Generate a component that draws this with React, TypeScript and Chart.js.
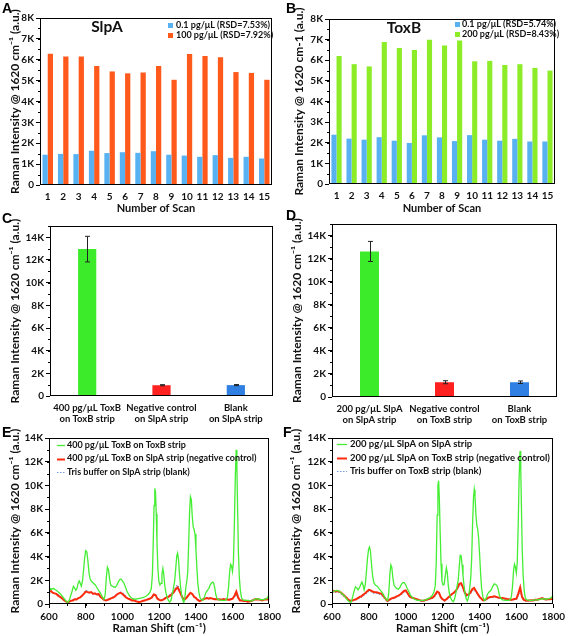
import React, { useEffect, useRef } from "react";
import { Chart, registerables } from "chart.js";

Chart.register(...registerables);

// ---------------- DATA ----------------
const SCANS = ["1", "2", "3", "4", "5", "6", "7", "8", "9", "10", "11", "12", "13", "14", "15"];

const SLPA_LOW = [1450, 1490, 1480, 1640, 1530, 1570, 1540, 1620, 1450, 1410, 1350, 1430, 1300, 1350, 1270];
const SLPA_HIGH = [6290, 6160, 6150, 5700, 5440, 5350, 5390, 5700, 5040, 6270, 6180, 6120, 5410, 5370, 5040];
const TOXB_LOW = [2390, 2200, 2150, 2270, 2100, 1990, 2360, 2260, 2080, 2370, 2150, 2100, 2190, 2060, 2060];
const TOXB_HIGH = [6210, 5810, 5700, 6880, 6600, 6500, 6990, 6710, 6960, 5950, 5970, 5770, 5810, 5630, 5500];

const C_LABELS = [["400 pg/μL ToxB", "on ToxB strip"], ["Negative control", "on SlpA strip"], ["Blank", "on SlpA strip"]];
const C_MEANS = [12960, 950, 960];
const C_ERRORS = [1130, 50, 50];

const D_LABELS = [["200 pg/μL SlpA", "on SlpA strip"], ["Negative control", "on ToxB strip"], ["Blank", "on ToxB strip"]];
const D_MEANS = [12620, 1280, 1280];
const D_ERRORS = [870, 130, 110];

// Raman shift grid (cm-1) for the control spectra, 10 cm-1 sampling
const SHIFT_GRID = Array.from({ length: 121 }, (_, i) => 600 + i * 10);

// intensities in thousands (K) of a.u.
const E_TOXB_ON_TOXB: [number, number][] = [
  [600, 1.0], [608, 1.3], [615, 1.25], [625, 1.3], [635, 1.2], [645, 1.1], [655, 0.95], [665, 0.8], [675, 0.6], [685, 0.4],
  [695, 0.2], [702, 0.1], [710, 0.3], [718, 0.7], [726, 1.1], [733, 1.5], [740, 1.35], [746, 1.15], [752, 1.3], [758, 1.7],
  [764, 1.95], [770, 1.75], [776, 1.5], [782, 1.9], [788, 2.8], [794, 3.9], [800, 4.5], [806, 4.4], [812, 3.6], [818, 2.6],
  [824, 2.1], [832, 1.9], [842, 1.75], [852, 1.6], [862, 1.35], [872, 1.1], [882, 0.85], [892, 0.55], [900, 0.4], [906, 0.8],
  [912, 2.2], [918, 3.1], [924, 2.9], [930, 2.1], [936, 1.6], [944, 1.5], [952, 1.45], [960, 1.4], [968, 1.55], [976, 1.8],
  [984, 2.05], [992, 2.1], [1000, 1.95], [1008, 1.75], [1016, 1.45], [1024, 1.1], [1032, 0.85], [1042, 0.6], [1055, 0.45], [1070, 0.4],
  [1085, 0.45], [1100, 0.5], [1115, 0.55], [1128, 0.65], [1140, 0.8], [1150, 1.0], [1157, 1.3], [1163, 2.5], [1168, 5.5], [1172, 8.3],
  [1176, 9.75], [1180, 9.4], [1184, 7.6], [1188, 5.2], [1193, 3.0], [1198, 1.9], [1204, 1.6], [1210, 1.75], [1215, 2.5], [1220, 3.0],
  [1225, 2.5], [1230, 1.6], [1236, 1.0], [1243, 0.6], [1250, 0.3], [1257, 0.15], [1264, 0.3], [1271, 0.8], [1278, 1.4], [1284, 1.9],
  [1290, 3.0], [1296, 4.1], [1300, 4.3], [1305, 3.8], [1310, 2.6], [1316, 1.5], [1322, 0.8], [1328, 0.35], [1334, 0.1], [1340, 0.6],
  [1345, 1.4], [1350, 1.9], [1355, 2.6], [1360, 4.8], [1365, 7.6], [1370, 9.05], [1375, 8.8], [1380, 7.4], [1385, 6.5], [1390, 6.3],
  [1395, 5.9], [1400, 4.6], [1405, 3.1], [1410, 1.8], [1416, 1.0], [1422, 0.55], [1430, 0.35], [1438, 0.3], [1446, 0.6], [1454, 0.95],
  [1462, 1.15], [1470, 1.3], [1477, 1.6], [1484, 1.75], [1490, 1.85], [1496, 1.8], [1502, 1.4], [1508, 0.8], [1515, 0.45], [1525, 0.35],
  [1540, 0.3], [1555, 0.3], [1565, 0.35], [1572, 0.6], [1578, 1.5], [1584, 2.8], [1589, 3.35], [1594, 3.2], [1599, 2.75], [1604, 3.5],
  [1609, 6.5], [1614, 10.5], [1619, 13.0], [1623, 11.5], [1627, 8.0], [1631, 4.5], [1636, 2.3], [1642, 1.1], [1648, 0.55], [1656, 0.35],
  [1670, 0.3], [1685, 0.3], [1700, 0.25], [1715, 0.35], [1730, 0.45], [1745, 0.4], [1760, 0.35], [1775, 0.4], [1785, 0.45], [1792, 0.6],
  [1796, 0.75], [1800, 0.65],
];

const E_TOXB_ON_SLPA = [
  1.05, 1.1, 0.95, 0.9, 0.85, 0.7, 0.6, 0.5, 0.35, 0.25,
  0.12, 0.2, 0.28, 0.3, 0.4, 0.38, 0.5, 0.55, 0.7, 0.85,
  1.05, 1.0, 0.95, 1.0, 0.85, 0.9, 0.8, 0.85, 0.6, 0.5,
  0.35, 0.3, 0.35, 0.42, 0.5, 0.55, 0.65, 0.8, 0.9, 0.95,
  0.85, 0.7, 0.55, 0.45, 0.4, 0.3, 0.32, 0.25, 0.2, 0.15,
  0.2, 0.25, 0.3, 0.35, 0.4, 0.45, 0.55, 0.8, 0.75, 0.45,
  0.35, 0.3, 0.35, 0.45, 0.55, 0.6, 0.7, 0.85, 1.0, 1.25,
  1.4, 1.1, 0.75, 0.45, 0.4, 0.55, 0.75, 0.95, 0.85, 0.6,
  0.5, 0.35, 0.25, 0.3, 0.4, 0.45, 0.5, 0.45, 0.5, 0.45,
  0.4, 0.42, 0.38, 0.4, 0.35, 0.42, 0.38, 0.4, 0.35, 0.4,
  0.45, 0.7, 1.05, 0.55, 0.3, 0.3, 0.25, 0.28, 0.2, 0.22,
  0.25, 0.3, 0.4, 0.38, 0.4, 0.35, 0.3, 0.35, 0.4, 0.38,
  0.45,
];

const E_BLANK_SLPA = [
  0.9, 0.95, 0.95, 0.9, 0.85, 0.8, 0.65, 0.55, 0.4, 0.25,
  0.1, 0.15, 0.25, 0.35, 0.4, 0.45, 0.5, 0.6, 0.75, 0.95,
  1.15, 1.1, 1.0, 0.95, 0.9, 0.85, 0.8, 0.75, 0.6, 0.45,
  0.3, 0.35, 0.4, 0.45, 0.5, 0.6, 0.7, 0.8, 0.95, 1.0,
  0.95, 0.8, 0.6, 0.5, 0.4, 0.35, 0.3, 0.25, 0.25, 0.2,
  0.2, 0.25, 0.3, 0.35, 0.45, 0.5, 0.6, 0.75, 0.7, 0.5,
  0.4, 0.35, 0.4, 0.5, 0.6, 0.7, 0.8, 0.95, 1.1, 1.45,
  1.6, 1.3, 0.85, 0.5, 0.45, 0.6, 0.8, 0.95, 0.8, 0.6,
  0.5, 0.4, 0.3, 0.35, 0.45, 0.5, 0.55, 0.5, 0.5, 0.45,
  0.45, 0.4, 0.4, 0.42, 0.4, 0.38, 0.4, 0.42, 0.4, 0.45,
  0.5, 0.6, 0.8, 0.5, 0.35, 0.3, 0.28, 0.25, 0.25, 0.28,
  0.3, 0.35, 0.42, 0.4, 0.42, 0.4, 0.35, 0.38, 0.4, 0.42,
  0.45,
];

const F_SLPA_ON_SLPA: [number, number][] = [
  [600, 1.0], [608, 1.05], [616, 1.1], [626, 1.15], [636, 1.1], [646, 1.0], [656, 0.85], [666, 0.7], [676, 0.5], [686, 0.3],
  [696, 0.15], [704, 0.15], [712, 0.6], [720, 1.1], [727, 1.45], [734, 1.35], [741, 1.2], [748, 1.35], [755, 1.6], [762, 1.85],
  [768, 1.6], [774, 1.2], [780, 1.6], [786, 2.6], [792, 3.8], [798, 4.6], [803, 4.8], [808, 4.5], [814, 3.4], [820, 2.4],
  [827, 1.8], [835, 1.6], [845, 1.5], [855, 1.3], [865, 1.1], [875, 0.9], [885, 0.6], [895, 0.35], [902, 0.3], [908, 1.0],
  [914, 2.6], [919, 3.3], [924, 3.1], [930, 2.2], [936, 1.6], [944, 1.4], [952, 1.3], [960, 1.25], [968, 1.4], [976, 1.65],
  [984, 1.8], [992, 1.8], [1000, 1.6], [1008, 1.3], [1016, 1.05], [1025, 0.75], [1035, 0.55], [1048, 0.4], [1062, 0.3], [1078, 0.3],
  [1094, 0.3], [1108, 0.35], [1120, 0.45], [1132, 0.55], [1144, 0.75], [1153, 1.0], [1160, 1.6], [1165, 3.5], [1170, 7.5], [1174, 10.0],
  [1178, 10.4], [1182, 8.8], [1186, 6.2], [1191, 3.4], [1196, 1.9], [1202, 1.6], [1208, 1.65], [1214, 2.4], [1220, 3.05], [1225, 2.6],
  [1230, 1.6], [1236, 0.9], [1243, 0.5], [1250, 0.3], [1257, 0.2], [1264, 0.4], [1271, 0.9], [1278, 1.5], [1284, 2.0], [1290, 3.2],
  [1295, 4.1], [1300, 4.05], [1305, 3.3], [1310, 2.4], [1316, 1.5], [1322, 0.8], [1328, 0.4], [1334, 0.25], [1340, 0.55], [1346, 1.3],
  [1352, 2.2], [1357, 3.8], [1362, 6.8], [1367, 9.0], [1371, 9.65], [1375, 9.1], [1380, 7.6], [1385, 6.6], [1390, 6.3], [1395, 5.5],
  [1400, 4.2], [1405, 2.7], [1411, 1.3], [1418, 0.6], [1426, 0.3], [1434, 0.4], [1442, 0.8], [1450, 1.0], [1458, 1.1], [1466, 1.3],
  [1473, 1.55], [1480, 1.7], [1487, 1.65], [1494, 1.55], [1500, 1.3], [1507, 0.75], [1515, 0.45], [1525, 0.35], [1540, 0.3], [1555, 0.3],
  [1565, 0.35], [1572, 0.6], [1578, 1.4], [1584, 2.8], [1589, 3.35], [1594, 3.1], [1599, 2.6], [1604, 3.5], [1609, 6.5], [1614, 10.5],
  [1619, 12.9], [1623, 11.4], [1627, 8.0], [1631, 4.6], [1636, 2.4], [1642, 1.1], [1648, 0.5], [1656, 0.35], [1670, 0.3], [1685, 0.3],
  [1700, 0.35], [1715, 0.35], [1730, 0.4], [1745, 0.45], [1760, 0.4], [1775, 0.45], [1785, 0.5], [1792, 0.6], [1796, 0.7], [1800, 0.6],
];

const F_SLPA_ON_TOXB = [
  1.0, 1.1, 1.05, 1.1, 1.05, 0.95, 0.8, 0.65, 0.5, 0.35,
  0.28, 0.3, 0.35, 0.4, 0.5, 0.6, 0.65, 0.8, 0.9, 1.05,
  1.2, 1.15, 1.05, 1.0, 1.0, 0.95, 0.9, 0.85, 0.65, 0.45,
  0.25, 0.35, 0.45, 0.5, 0.55, 0.65, 0.7, 0.8, 0.95, 1.1,
  1.15, 0.9, 0.65, 0.55, 0.5, 0.45, 0.4, 0.35, 0.3, 0.28,
  0.3, 0.35, 0.4, 0.45, 0.5, 0.6, 0.8, 1.05, 0.95, 0.55,
  0.4, 0.3, 0.4, 0.55, 0.7, 0.85, 0.95, 1.1, 1.35, 1.7,
  1.75, 1.4, 0.95, 0.75, 0.8, 0.95, 1.25, 1.35, 1.1, 0.85,
  0.6, 0.45, 0.3, 0.35, 0.45, 0.55, 0.6, 0.62, 0.65, 0.6,
  0.55, 0.52, 0.5, 0.48, 0.45, 0.42, 0.4, 0.35, 0.38, 0.42,
  0.45, 0.9, 1.4, 0.6, 0.35, 0.3, 0.28, 0.3, 0.32, 0.3,
  0.35, 0.35, 0.4, 0.45, 0.5, 0.42, 0.38, 0.4, 0.4, 0.42,
  0.45,
];

const F_BLANK_TOXB = [
  0.95, 1.0, 1.0, 1.0, 0.95, 0.85, 0.7, 0.6, 0.45, 0.3,
  0.2, 0.25, 0.3, 0.35, 0.45, 0.5, 0.6, 0.7, 0.8, 0.95,
  1.1, 1.05, 0.95, 0.9, 0.9, 0.85, 0.8, 0.7, 0.55, 0.4,
  0.2, 0.3, 0.4, 0.45, 0.5, 0.6, 0.65, 0.75, 0.85, 1.0,
  1.05, 0.85, 0.6, 0.5, 0.45, 0.4, 0.35, 0.3, 0.25, 0.22,
  0.25, 0.3, 0.35, 0.4, 0.45, 0.55, 0.7, 0.9, 0.85, 0.5,
  0.35, 0.25, 0.35, 0.5, 0.65, 0.8, 0.9, 1.0, 1.25, 1.55,
  1.6, 1.3, 0.85, 0.65, 0.7, 0.85, 1.1, 1.2, 1.0, 0.75,
  0.55, 0.4, 0.25, 0.3, 0.4, 0.5, 0.55, 0.55, 0.6, 0.55,
  0.5, 0.48, 0.45, 0.42, 0.4, 0.38, 0.35, 0.32, 0.35, 0.38,
  0.42, 0.7, 1.1, 0.5, 0.3, 0.25, 0.25, 0.28, 0.3, 0.28,
  0.3, 0.32, 0.35, 0.4, 0.45, 0.4, 0.35, 0.38, 0.38, 0.4,
  0.42,
];

// ---------------- STYLE ----------------
const FAMILY = "Lato, 'Open Sans', 'DejaVu Sans', sans-serif";
const TEXT = "#111";
const SKY = "#58b2f2";
const ORANGE = "#ff5a1c";
const LIME = "#8cec28";
const GREEN = "#3cec2a";
const RED = "#ff2020";
const BLUE = "#2f80e2";
const LINE_GREEN = "#44ee33";
const LINE_RED = "#ff2a0a";
const LINE_BLUE = "#6f9fd8";

const fnt = (size: number, weight: any = "bold") => ({ family: FAMILY, size, weight });

// ---------------- PLUGINS ----------------
const framePlugin = {
  id: "frame",
  afterDraw(chart: any) {
    const { ctx, chartArea: a } = chart;
    ctx.save();
    ctx.strokeStyle = "#000";
    ctx.lineWidth = 1;
    const l = Math.round(a.left) + 0.5;
    const t = Math.round(a.top) + 0.5;
    const r = Math.round(a.right) - 0.5;
    const b = Math.round(a.bottom) - 0.5;
    ctx.strokeRect(l, t, r - l, b - t);
    ctx.restore();
  },
};

const minorTicksPlugin = {
  id: "minorTicks",
  afterDraw(chart: any, _args: any, o: any) {
    const { ctx, chartArea: a } = chart;
    ctx.save();
    ctx.strokeStyle = "#000";
    ctx.lineWidth = 1;
    if (o && o.y) {
      const s = chart.scales.y;
      for (let v = s.min; v <= s.max + 1e-9; v += o.y) {
        const p = Math.round(s.getPixelForValue(v)) + 0.5;
        ctx.beginPath();
        ctx.moveTo(a.left - o.len, p);
        ctx.lineTo(a.left, p);
        ctx.stroke();
      }
    }
    if (o && o.x) {
      const s = chart.scales.x;
      for (let v = s.min; v <= s.max + 1e-9; v += o.x) {
        const p = Math.round(s.getPixelForValue(v)) + 0.5;
        ctx.beginPath();
        ctx.moveTo(p, a.bottom);
        ctx.lineTo(p, a.bottom + o.len);
        ctx.stroke();
      }
    }
    ctx.restore();
  },
};

const errorBarPlugin = {
  id: "errorBars",
  afterDatasetsDraw(chart: any, _args: any, o: any) {
    const { ctx } = chart;
    const ys = chart.scales.y;
    chart.data.datasets.forEach((ds: any, di: number) => {
      if (!ds.errors) return;
      const meta = chart.getDatasetMeta(di);
      meta.data.forEach((el: any, i: number) => {
        const v = ds.data[i];
        const e = ds.errors[i];
        const x = Math.round(el.x) + 0.5;
        const yt = ys.getPixelForValue(v + e);
        const yb = ys.getPixelForValue(v - e);
        ctx.save();
        ctx.strokeStyle = "#222";
        ctx.lineWidth = 1;
        ctx.beginPath();
        ctx.moveTo(x, yt);
        ctx.lineTo(x, yb);
        ctx.moveTo(x - o.cap, yt);
        ctx.lineTo(x + o.cap, yt);
        ctx.moveTo(x - o.cap, yb);
        ctx.lineTo(x + o.cap, yb);
        ctx.stroke();
        ctx.restore();
      });
    });
  },
};

const insideLegendPlugin = {
  id: "insideLegend",
  afterDraw(chart: any, _args: any, o: any) {
    if (!o || !o.show) return;
    const { ctx, chartArea: a } = chart;
    ctx.save();
    ctx.fillStyle = TEXT;
    if (o.title) {
      ctx.font = `bold ${o.titleSize}px ${FAMILY}`;
      ctx.textAlign = "center";
      ctx.textBaseline = "middle";
      ctx.fillText(o.title, a.left + o.titleX, a.top + o.titleY);
    }
    ctx.font = `bold ${o.size}px ${FAMILY}`;
    ctx.textAlign = "left";
    ctx.textBaseline = "middle";
    chart.data.datasets.forEach((ds: any, i: number) => {
      const yy = a.top + o.y + i * o.rowH;
      if (o.kind === "box") {
        ctx.fillStyle = ds.backgroundColor;
        ctx.fillRect(a.left + o.x, Math.round(yy - o.box / 2), o.box, o.box);
      } else {
        ctx.strokeStyle = ds.borderColor;
        ctx.lineWidth = ds.borderWidth;
        ctx.setLineDash(ds.borderDash || []);
        ctx.beginPath();
        ctx.moveTo(a.left + o.x, Math.round(yy) + 0.5);
        ctx.lineTo(a.left + o.x + o.lineLen, Math.round(yy) + 0.5);
        ctx.stroke();
        ctx.setLineDash([]);
      }
      ctx.fillStyle = TEXT;
      ctx.fillText(ds.label, a.left + o.textX, yy);
    });
    ctx.restore();
  },
};

// ---------------- SCALE HELPERS ----------------
function yScale(o: { max: number; step: number; top: number; width: number; title: string; titlePad: number; unit: number }) {
  return {
    type: "linear",
    min: 0,
    max: o.max,
    afterFit: (s: any) => {
      s.width = o.width;
    },
    afterBuildTicks: (s: any) => {
      const t: { value: number }[] = [];
      for (let v = 0; v <= o.top + 1e-9; v += o.step) t.push({ value: v });
      s.ticks = t;
    },
    ticks: {
      stepSize: o.step,
      autoSkip: false,
      color: TEXT,
      font: fnt(10),
      padding: 2,
      callback: (v: any) => (Number(v) === 0 ? "0" : `${Number(v) / o.unit}K`),
    },
    grid: { display: true, drawOnChartArea: false, drawTicks: true, tickLength: 4, color: "#000" },
    border: { display: false },
    title: { display: true, text: o.title, color: TEXT, font: fnt(12), padding: { top: o.titlePad, bottom: 0 } },
  };
}

function catScale(height: number, fontSize: number, title?: string) {
  return {
    type: "category",
    offset: true,
    afterFit: (s: any) => {
      s.height = height;
    },
    ticks: { color: TEXT, font: fnt(fontSize), padding: 3, autoSkip: false, maxRotation: 0, minRotation: 0 },
    grid: { display: false, drawTicks: true, tickLength: 3 },
    border: { display: false },
    title: title
      ? { display: true, text: title, color: TEXT, font: fnt(11), padding: { top: 0, bottom: 1 } }
      : { display: false },
  };
}

function shiftScale(height: number) {
  return {
    type: "linear",
    min: 600,
    max: 1800,
    afterFit: (s: any) => {
      s.height = height;
    },
    ticks: {
      stepSize: 200,
      color: TEXT,
      font: fnt(10),
      padding: 3,
      autoSkip: false,
      maxRotation: 0,
      callback: (v: any) => String(v),
    },
    grid: { display: true, drawOnChartArea: false, drawTicks: true, tickLength: 4, color: "#000" },
    border: { display: false },
    title: { display: true, text: "Raman Shift (cm⁻¹)", color: TEXT, font: fnt(11.5), padding: { top: 0, bottom: 1 } },
  };
}

const basePlugins = { legend: { display: false }, tooltip: { enabled: false } };

// ---------------- CONFIGS ----------------
function scanBarConfig(p: {
  low: number[]; high: number[]; lowLabel: string; highLabel: string; highColor: string;
  padTop: number; padRight: number; yWidth: number; xHeight: number; yTitle: string; titlePad: number;
  name: string; nameX: number; legendX: number; legendTextX: number; legendY: number;
}) {
  return {
    type: "bar",
    data: {
      labels: SCANS,
      datasets: [
        { label: p.lowLabel, data: p.low, backgroundColor: SKY, categoryPercentage: 0.68, barPercentage: 1 },
        { label: p.highLabel, data: p.high, backgroundColor: p.highColor, categoryPercentage: 0.68, barPercentage: 1 },
      ],
    },
    options: {
      responsive: false,
      animation: false,
      layout: { padding: { top: p.padTop, right: p.padRight, left: 0, bottom: 0 } },
      scales: {
        x: catScale(p.xHeight, 10, "Number of Scan"),
        y: yScale({ max: 8000, top: 8000, step: 1000, width: p.yWidth, title: p.yTitle, titlePad: p.titlePad, unit: 1000 }),
      },
      plugins: {
        ...basePlugins,
        minorTicks: { y: 500, len: 2 },
        insideLegend: {
          show: true, kind: "box", title: p.name, titleSize: 15.5, titleX: p.nameX, titleY: 9,
          size: 9, x: p.legendX, textX: p.legendTextX, y: p.legendY, rowH: 10.5, box: 5,
        },
      },
    },
    plugins: [framePlugin, minorTicksPlugin, insideLegendPlugin],
  };
}

function controlBarConfig(p: {
  labels: string[][]; means: number[]; errors: number[]; padTop: number; padRight: number;
  yWidth: number; xHeight: number; titlePad: number; pct: number;
}) {
  return {
    type: "bar",
    data: {
      labels: p.labels,
      datasets: [
        {
          label: "mean",
          data: p.means,
          errors: p.errors,
          backgroundColor: [GREEN, RED, BLUE],
          categoryPercentage: 1,
          barPercentage: p.pct,
        },
      ],
    },
    options: {
      responsive: false,
      animation: false,
      layout: { padding: { top: p.padTop, right: p.padRight, left: 0, bottom: 0 } },
      scales: {
        x: catScale(p.xHeight, 9.5),
        y: yScale({ max: 15000, top: 14000, step: 2000, width: p.yWidth, title: "Raman Intensity @ 1620 cm⁻¹ (a.u.)", titlePad: p.titlePad, unit: 1000 }),
      },
      plugins: {
        ...basePlugins,
        minorTicks: { y: 1000, len: 2 },
        errorBars: { cap: 2.5 },
      },
    },
    plugins: [framePlugin, minorTicksPlugin, errorBarPlugin],
  };
}

function spectraConfig(p: {
  sample: [number, number][]; neg: number[]; blank: number[]; labels: string[];
  padTop: number; padRight: number; yWidth: number; xHeight: number; titlePad: number;
  legendX: number; legendLen: number; legendTextX: number; legendY: number; legendSize: number;
}) {
  return {
    type: "line",
    data: {
      datasets: [
        {
          label: p.labels[0],
          data: p.sample.map(([x, y]) => ({ x, y })),
          borderColor: LINE_GREEN,
          borderWidth: 1.3,
          pointRadius: 0,
          tension: 0,
          fill: false,
        },
        {
          label: p.labels[1],
          data: SHIFT_GRID.map((x, i) => ({ x, y: p.neg[i] })),
          borderColor: LINE_RED,
          borderWidth: 2,
          pointRadius: 0,
          tension: 0,
          fill: false,
        },
        {
          label: p.labels[2],
          data: SHIFT_GRID.map((x, i) => ({ x, y: p.blank[i] })),
          borderColor: LINE_BLUE,
          borderWidth: 1.2,
          borderDash: [1.5, 1.5],
          pointRadius: 0,
          tension: 0,
          fill: false,
        },
      ],
    },
    options: {
      responsive: false,
      animation: false,
      layout: { padding: { top: p.padTop, right: p.padRight, left: 0, bottom: 0 } },
      scales: {
        x: shiftScale(p.xHeight),
        y: yScale({ max: 14, top: 14, step: 2, width: p.yWidth, title: "Raman Intensity @ 1620 cm⁻¹ (a.u.)", titlePad: p.titlePad, unit: 1 }),
      },
      plugins: {
        ...basePlugins,
        minorTicks: { y: 1, x: 100, len: 2 },
        insideLegend: {
          show: true, kind: "line", size: p.legendSize, x: p.legendX, lineLen: p.legendLen, textX: p.legendTextX,
          y: p.legendY, rowH: 13.5,
        },
      },
    },
    plugins: [framePlugin, minorTicksPlugin, insideLegendPlugin],
  };
}

// ---------------- COMPONENTS ----------------
function ChartCanvas(props: { left: number; top: number; width: number; height: number; make: () => any }) {
  const ref = useRef<HTMLCanvasElement>(null);
  useEffect(() => {
    const chart = new Chart(ref.current as HTMLCanvasElement, props.make());
    return () => chart.destroy();
  }, []);
  return (
    <canvas
      ref={ref}
      width={props.width}
      height={props.height}
      style={{ position: "absolute", left: props.left, top: props.top, width: props.width, height: props.height }}
    />
  );
}

const letterStyle = (left: number, top: number): React.CSSProperties => ({
  position: "absolute",
  left,
  top,
  fontFamily: "'Liberation Sans', Arial, sans-serif",
  fontWeight: "bold",
  fontSize: 14,
  lineHeight: "14px",
  color: "#000",
});

export default function App() {
  return (
    <div style={{ position: "absolute", left: 0, top: 0, width: 568, height: 636, background: "#fff", overflow: "hidden" }}>
      <ChartCanvas
        left={0} top={0} width={284} height={216}
        make={() =>
          scanBarConfig({
            low: SLPA_LOW, high: SLPA_HIGH, lowLabel: "0.1 pg/μL (RSD=7.53%)", highLabel: "100 pg/μL (RSD=7.92%)",
            highColor: ORANGE, padTop: 18, padRight: 12, yWidth: 40, xHeight: 31,
            yTitle: "Raman Intensity @ 1620 cm⁻¹ (a.u.)", titlePad: 8, name: "SlpA", nameX: 67,
            legendX: 128, legendTextX: 136, legendY: 7,
          })
        }
      />
      <ChartCanvas
        left={284} top={0} width={284} height={216}
        make={() =>
          scanBarConfig({
            low: TOXB_LOW, high: TOXB_HIGH, lowLabel: "0.1 pg/μL (RSD=5.74%)", highLabel: "200 pg/μL (RSD=8.43%)",
            highColor: LIME, padTop: 19, padRight: 13, yWidth: 45, xHeight: 32,
            yTitle: "Raman Intensity @ 1620 cm-1 (a.u.)", titlePad: 8, name: "ToxB", nameX: 75,
            legendX: 126, legendTextX: 133, legendY: 5,
          })
        }
      />
      <ChartCanvas
        left={0} top={212} width={284} height={214}
        make={() =>
          controlBarConfig({
            labels: C_LABELS, means: C_MEANS, errors: C_ERRORS, padTop: 14, padRight: 11,
            yWidth: 50, xHeight: 30, titlePad: 8, pct: 0.245,
          })
        }
      />
      <ChartCanvas
        left={284} top={212} width={284} height={214}
        make={() =>
          controlBarConfig({
            labels: D_LABELS, means: D_MEANS, errors: D_ERRORS, padTop: 12, padRight: 11,
            yWidth: 48, xHeight: 29, titlePad: 6, pct: 0.253,
          })
        }
      />
      <ChartCanvas
        left={0} top={424} width={284} height={212}
        make={() =>
          spectraConfig({
            sample: E_TOXB_ON_TOXB, neg: E_TOXB_ON_SLPA, blank: E_BLANK_SLPA,
            labels: [
              "400 pg/μL ToxB on ToxB strip",
              "400 pg/μL ToxB on SlpA strip (negative control)",
              "Tris buffer on SlpA strip (blank)",
            ],
            padTop: 14, padRight: 11, yWidth: 49, xHeight: 32, titlePad: 8,
            legendX: 8, legendLen: 8, legendTextX: 18, legendY: 7, legendSize: 9,
          })
        }
      />
      <ChartCanvas
        left={284} top={424} width={284} height={212}
        make={() =>
          spectraConfig({
            sample: F_SLPA_ON_SLPA, neg: F_SLPA_ON_TOXB, blank: F_BLANK_TOXB,
            labels: [
              "200 pg/μL SlpA on SlpA strip",
              "200 pg/μL SlpA on ToxB strip (negative control)",
              "Tris buffer on ToxB strip (blank)",
            ],
            padTop: 14, padRight: 11, yWidth: 48, xHeight: 32, titlePad: 5,
            legendX: 5, legendLen: 10, legendTextX: 18, legendY: 6, legendSize: 9.5,
          })
        }
      />
      <div style={letterStyle(2, 1)}>A</div>
      <div style={letterStyle(286, 1)}>B</div>
      <div style={letterStyle(2, 211)}>C</div>
      <div style={letterStyle(286, 208)}>D</div>
      <div style={letterStyle(2, 425)}>E</div>
      <div style={letterStyle(283, 425)}>F</div>
    </div>
  );
}
